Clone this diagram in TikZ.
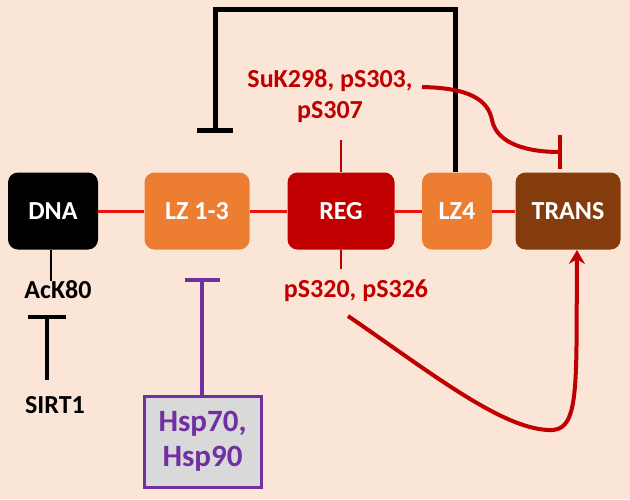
\documentclass[tikz,border=0pt]{standalone}
\usepackage{fontspec}
\setmainfont{Carlito}
\usetikzlibrary{arrows.meta}
\definecolor{bgc}{HTML}{FBE5D6}
\definecolor{orng}{HTML}{ED7D31}
\definecolor{regc}{HTML}{C00000}
\definecolor{transc}{HTML}{843C0C}
\definecolor{linkred}{HTML}{F01010}
\definecolor{purp}{HTML}{7030A0}
\definecolor{grayc}{HTML}{D9D9D9}
\tikzset{
  dom/.style={rounded corners=5pt, minimum height=38.5pt, inner sep=0pt, text=white, font=\bfseries\fontsize{13}{15}\selectfont},
  lbl/.style={inner sep=0pt, font=\bfseries\fontsize{13}{15.5}\selectfont, align=center},
  link/.style={linkred, line width=1.5pt},
  tick/.style={regc, line width=0.8pt},
  inhb/.style={line width=2.5pt, -{Bar[width=18pt,line width=2.5pt]}},
  curve/.style={regc, line width=2pt},
}
\begin{document}
\begin{tikzpicture}[x=0.5pt,y=-0.5pt]
\fill[bgc] (0,0) rectangle (630,499);
\useasboundingbox (0,0) rectangle (630,499);
% domain boxes
\node[dom, fill=black, minimum width=45pt] (DNA) at (53,211) {DNA};
\node[dom, fill=orng, minimum width=52.5pt] (LZA) at (197,211) {LZ 1-3};
\node[dom, fill=regc, minimum width=53.5pt] (REG) at (341,211) {REG};
\node[dom, fill=orng, minimum width=35pt] (LZB) at (457,211) {LZ4};
\node[dom, fill=transc, minimum width=52.5pt] (TRANS) at (568,211) {TRANS};
% links
\draw[link] (DNA) -- (LZA);
\draw[link] (LZA) -- (REG);
\draw[link] (REG) -- (LZB);
\draw[link] (LZB) -- (TRANS);
% labels
\node[lbl, text=regc] (sukl) at (330,96) {SuK298, pS303,\\pS307};
\node[lbl, text=regc] (psl) at (356,291) {pS320, pS326};
\node[lbl] (ack) at (58,290) {AcK80};
\node[lbl] (sirt) at (55,405) {SIRT1};
\node[draw=purp, line width=1.5pt, fill=grayc, minimum width=58.5pt, minimum height=45.5pt, inner sep=0pt,
      text=purp, align=center, font=\bfseries\fontsize{15.5}{17.5}\selectfont] (hsp) at (202.5,441.5) {Hsp70,\\Hsp90};
% ticks on REG
\draw[tick] (REG.north) -- ++(0,-32);
\draw[tick] (REG.south) -- ++(0,19);
% AcK80 tick
\draw[black, line width=0.8pt] ([xshift=-1pt]DNA.south) -- ([xshift=-1pt]DNA.south |- ack.north);
% feedback LZ4 -> LZ1-3
\coordinate (fbend) at (215,133);
\draw[inhb] ([xshift=-1pt]LZB.north) -- ++(0,-163) -| (fbend);
% SIRT1 inhibits AcK80
\coordinate (sbar) at (47,315);
\draw[line width=2pt, -{Bar[width=19pt,line width=2pt]}] (sbar |- sirt.north) ++(0,-16) -- (sbar);
% Hsp inhibits LZ1-3
\coordinate (hbar) at (202,278);
\draw[purp, line width=2pt, -{Bar[width=17.5pt,line width=2pt]}] (hsp.north -| hbar) -- (hbar);
% modification to TRANS inhibition
\coordinate (sukend) at (422,87);
\coordinate (tbar) at (562,152);
\draw[curve, -{Bar[width=17pt,line width=2pt]}] (sukend) .. controls (470,88) and (488,100) .. (492,120) .. controls (497,145) and (530,152) .. (tbar);
% activation arrow
\coordinate (pstart) at (348,316);
\draw[curve, -{Stealth[length=7pt,width=8pt]}] (pstart) .. controls (430,372) and (505,432) .. (553,430) .. controls (580,428) and (576,380) .. ([xshift=4.5pt]TRANS.south);
\end{tikzpicture}
\end{document}
